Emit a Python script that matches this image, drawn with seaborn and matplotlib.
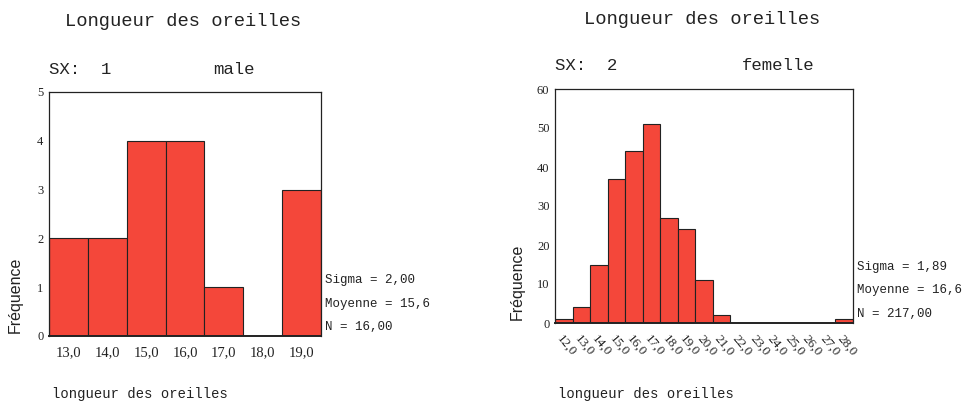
import matplotlib
matplotlib.use("Agg")
import matplotlib.pyplot as plt
import seaborn as sns
import numpy as np

sns.set_theme(style="white")
plt.rcParams["font.family"] = ["Liberation Serif", "DejaVu Serif"]

# Ear length histograms by sex (counts per integer bin)
male_lengths = [13, 14, 15, 16, 17, 18, 19]
male_counts = [2, 2, 4, 4, 1, 0, 3]
male_stats = ["Sigma = 2,00", "Moyenne = 15,6", "N = 16,00"]

female_lengths = [12, 13, 14, 15, 16, 17, 18, 19, 20, 21, 22, 23, 24, 25, 26, 27, 28]
female_counts = [1, 4, 15, 37, 44, 51, 27, 24, 11, 2, 0, 0, 0, 0, 0, 0, 1]
female_stats = ["Sigma = 1,89", "Moyenne = 16,6", "N = 217,00"]

title = "Longueur des oreilles"
xlabel = "longueur des oreilles"
ylabel = "Fréquence"
bar_color = "#f4473a"
mono = "Liberation Mono"

W, H = 978, 403
fig = plt.figure(figsize=(W / 100, H / 100), dpi=100)


def fx(px):
    return px / W


def fy(py):
    return 1 - py / H


def panel(box, lengths, counts, ymax, ystep, sx, sex_name, sex_x, stats,
          title_xy, sx_y, stats_y, ylab_xy, rotate):
    left, top, right, bottom = box
    ax = fig.add_axes([fx(left), fy(bottom), fx(right - left), (bottom - top) / H])
    sns.histplot(x=lengths, weights=counts, discrete=True, ax=ax,
                 color=bar_color, alpha=1, edgecolor="#222222", linewidth=0.8)
    ax.set_xlim(lengths[0] - 0.5, lengths[-1] + 0.5)
    ax.set_ylim(0, ymax)
    ax.set_yticks(np.arange(0, ymax + 1, ystep))
    ax.set_xticks(lengths)
    ax.set_xticklabels([f"{v},0" for v in lengths])
    ax.set_xlabel("")
    ax.set_ylabel("")
    for s in ax.spines.values():
        s.set_color("#222222")
        s.set_linewidth(0.9)
    ax.spines["bottom"].set_linewidth(1.4)
    ax.tick_params(axis="y", direction="inout", length=4, width=1.2,
                   labelsize=9, pad=2, colors="#222222")
    ax.tick_params(axis="x", direction="out", length=3, width=2,
                   pad=4, colors="#222222")
    if rotate:
        for lab in ax.get_xticklabels():
            lab.set_rotation(-50)
            lab.set_ha("left")
            lab.set_va("top")
            lab.set_rotation_mode("anchor")
            lab.set_fontsize(9.5)
    else:
        for lab in ax.get_xticklabels():
            lab.set_fontsize(10.5)
    ax.grid(False)

    fig.text(fx(title_xy[0]), fy(title_xy[1]), title, family=mono,
             fontsize=13.5, ha="center", va="center", color="#222222")
    fig.text(fx(left), fy(sx_y), f"SX:  {sx}", family=mono, fontsize=12.5,
             ha="left", va="center", color="#222222")
    fig.text(fx(sex_x), fy(sx_y), sex_name, family=mono, fontsize=12.5,
             ha="left", va="center", color="#222222")
    for txt, yy in zip(stats, stats_y):
        fig.text(fx(right + 4), fy(yy), txt, family=mono, fontsize=9,
                 ha="left", va="center", color="#222222")
    fig.text(fx(ylab_xy[0]), fy(ylab_xy[1]), ylabel,
             family=["Liberation Sans", "DejaVu Sans"], fontsize=11.5,
             rotation=90, ha="center", va="center", color="#222222")
    fig.text(fx(left + 3), fy(401), xlabel, family=mono, fontsize=10,
             ha="left", va="bottom", color="#222222")
    return ax


panel((49, 92, 321, 336), male_lengths, male_counts, 5, 1, 1, "male", 213,
      male_stats, (183, 22), 69, (280, 304, 327), (15, 295), rotate=False)
panel((555, 89, 853, 323), female_lengths, female_counts, 60, 10, 2, "femelle", 742,
      female_stats, (702, 19), 66, (267, 290, 314), (517, 282), rotate=True)

fig.savefig("out.png", dpi=100, facecolor="white")
